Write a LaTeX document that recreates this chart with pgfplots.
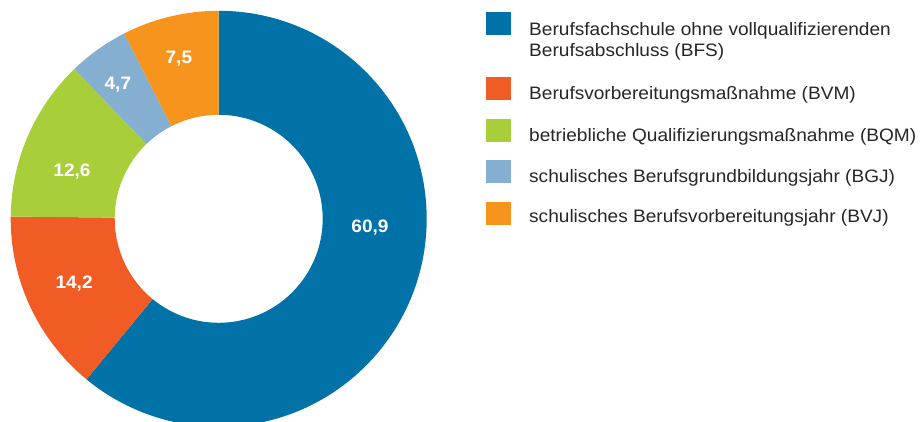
\documentclass[border=0pt]{standalone}
\usepackage{fontspec}
\setmainfont{Liberation Sans}[FakeStretch=1.06]
\usepackage{pgfplots}
\usepackage{pgfplotstable}
\pgfplotsset{compat=1.18}
\pgfkeys{/pgf/number format/assume math mode=true}
\definecolor{cBFS}{RGB}{0,114,167}
\definecolor{cBVM}{RGB}{241,92,37}
\definecolor{cBQM}{RGB}{168,206,58}
\definecolor{cBGJ}{RGB}{133,175,208}
\definecolor{cBVJ}{RGB}{247,148,30}

% value, colour, label angle and label radius (chart units = pt)
\pgfplotstableread{
value col labang labr
60.9 cBFS -3.5 151.6
14.2 cBVM -155.7 158.7
12.6 cBQM 162.3 154
4.7 cBGJ 127 167.5
7.5 cBVJ 104 164.7
}\donut

\def\cx{218.7}
\def\cy{203.2}
\def\Ro{208}
\def\Ri{104}
\def\total{99.9}

\newcommand\drawwedge[1]{%
  \edef\tmp{\noexpand\fill[\csname wC#1\endcsname]
    (axis cs:\csname wOx#1\endcsname,\csname wOy#1\endcsname)
    arc[start angle=\csname wA#1\endcsname, end angle=\csname wB#1\endcsname, radius=\Ro]
    -- (axis cs:\csname wIx#1\endcsname,\csname wIy#1\endcsname)
    arc[start angle=\csname wB#1\endcsname, end angle=\csname wA#1\endcsname, radius=\Ri]
    -- cycle;
    \noexpand\node[text=white, inner sep=0pt, font=\noexpand\bfseries\noexpand\fontsize{18}{20}\noexpand\selectfont]
      at (axis cs:\csname wLx#1\endcsname,\csname wLy#1\endcsname)
      {\noexpand\pgfmathprintnumber[use comma,fixed,fixed zerofill,precision=1,assume math mode=true]{\csname wV#1\endcsname}};
  }\tmp}

\begin{document}
\begin{tikzpicture}
\def\cum{0}
\pgfmathsetmacro\scl{360/\total}
\pgfplotsforeachungrouped \i in {0,...,4}{%
  \pgfplotstablegetelem{\i}{value}\of\donut
  \let\v\pgfplotsretval
  \pgfmathsetmacro\a{90-\scl*\cum}
  \pgfmathsetmacro\cum{\cum+\v}
  \pgfmathsetmacro\b{90-\scl*\cum}
  \pgfmathsetmacro\ox{\cx+\Ro*cos(\a)}
  \pgfmathsetmacro\oy{\cy+\Ro*sin(\a)}
  \pgfmathsetmacro\ix{\cx+\Ri*cos(\b)}
  \pgfmathsetmacro\iy{\cy+\Ri*sin(\b)}
  \expandafter\xdef\csname wA\i\endcsname{\a}%
  \expandafter\xdef\csname wB\i\endcsname{\b}%
  \expandafter\xdef\csname wV\i\endcsname{\v}%
  \expandafter\xdef\csname wOx\i\endcsname{\ox}%
  \expandafter\xdef\csname wOy\i\endcsname{\oy}%
  \expandafter\xdef\csname wIx\i\endcsname{\ix}%
  \expandafter\xdef\csname wIy\i\endcsname{\iy}%
  \pgfplotstablegetelem{\i}{col}\of\donut
  \expandafter\xdef\csname wC\i\endcsname{\pgfplotsretval}%
  \pgfplotstablegetelem{\i}{labang}\of\donut
  \let\la\pgfplotsretval
  \pgfplotstablegetelem{\i}{labr}\of\donut
  \let\lr\pgfplotsretval
  \pgfmathsetmacro\lx{\cx+\lr*cos(\la)}
  \pgfmathsetmacro\ly{\cy+\lr*sin(\la)}
  \expandafter\xdef\csname wLx\i\endcsname{\lx}%
  \expandafter\xdef\csname wLy\i\endcsname{\ly}%
}
\begin{axis}[
  width=921pt, height=422pt, scale only axis,
  xmin=0, xmax=921, ymin=0, ymax=422,
  axis lines=none, clip=true,
]
\addplot[draw=none] coordinates {(0,0) (921,422)};
\drawwedge{0}\drawwedge{1}\drawwedge{2}\drawwedge{3}\drawwedge{4}
% legend
\fill[cBFS] (axis cs:486,410) rectangle (axis cs:511,387);
\fill[cBVM] (axis cs:486,345) rectangle (axis cs:511,322);
\fill[cBQM] (axis cs:486,303) rectangle (axis cs:511,280);
\fill[cBGJ] (axis cs:486,262) rectangle (axis cs:511,239);
\fill[cBVJ] (axis cs:486,220) rectangle (axis cs:511,197);
\begin{scope}[every node/.style={anchor=base west, inner sep=0pt, text=black!85, font=\fontsize{18}{21}\selectfont}]
\node at (axis cs:529,386) {Berufsfachschule ohne vollqualifizierenden};
\node at (axis cs:529,365) {Berufsabschluss (BFS)};
\node at (axis cs:529,322) {Berufsvorbereitungsmaßnahme (BVM)};
\node at (axis cs:529,280) {betriebliche Qualifizierungsmaßnahme (BQM)};
\node at (axis cs:529,239) {schulisches Berufsgrundbildungsjahr (BGJ)};
\node at (axis cs:529,199) {schulisches Berufsvorbereitungsjahr (BVJ)};
\end{scope}
\end{axis}
\end{tikzpicture}
\end{document}
